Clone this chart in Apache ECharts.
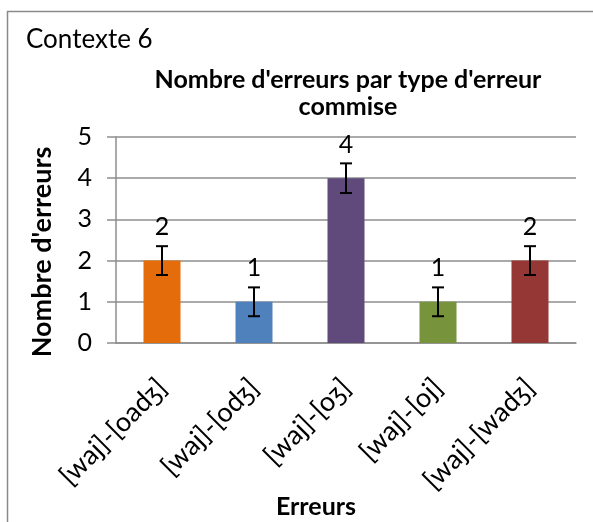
<!DOCTYPE html>
<html>
<head>
<meta charset="utf-8">
<script src="https://cdn.jsdelivr.net/npm/echarts@6/dist/echarts.min.js"></script>
<style>
  html, body { margin: 0; padding: 0; background: #fff; }
  #chart { width: 593px; height: 522px; }
</style>
</head>
<body>
<div id="chart"></div>
<script>
const categories = ["[waj]-[oadʒ]", "[waj]-[odʒ]", "[waj]-[oʒ]", "[waj]-[oj]", "[waj]-[wadʒ]"];
const values = [2, 1, 4, 1, 2];
const errors = [0.35, 0.35, 0.36, 0.35, 0.35];
const barColors = ["#e46c0a", "#4f81bd", "#604a7b", "#77933c", "#953735"];
const yTicks = [0, 1, 2, 3, 4, 5];

const font = "Lato, 'Open Sans', sans-serif";
const gridColor = "#8e8e8e";

const chart = echarts.init(document.getElementById("chart"));

chart.setOption({
  animation: false,
  textStyle: { fontFamily: font },
  graphic: [
    {
      type: "rect",
      shape: { x: 7.5, y: 11.5, width: 700, height: 600 },
      style: { fill: "none", stroke: "#8a8a8a", lineWidth: 1.5 },
      silent: true
    },
    {
      type: "text",
      x: 26,
      y: 40,
      style: { text: "Contexte 6", fontSize: 26, fontFamily: font, fill: "#000", verticalAlign: "middle" }
    },
    {
      // y axis title, placed like the original (slightly below the plot centre)
      type: "text",
      x: 42,
      y: 252,
      rotation: Math.PI / 2,
      style: {
        text: "Nombre d'erreurs", fontSize: 27, fontWeight: "bold", fontFamily: font,
        fill: "#000", align: "center", verticalAlign: "middle"
      }
    },
    {
      type: "text",
      x: 316,
      y: 507,
      style: {
        text: "Erreurs", fontSize: 25, fontWeight: "bold", fontFamily: font,
        fill: "#000", align: "center", verticalAlign: "middle"
      }
    }
  ],
  title: {
    text: "Nombre d'erreurs par type d'erreur\ncommise",
    left: 343,
    top: 61,
    textAlign: "center",
    textStyle: { fontSize: 25, fontWeight: "bold", fontFamily: font, color: "#000", lineHeight: 27 }
  },
  grid: { left: 116, right: 17, top: 137, bottom: 179, containLabel: false, outerBoundsMode: "none" },
  xAxis: {
    type: "category",
    data: categories,
    axisLine: { lineStyle: { color: gridColor, width: 1.5 } },
    axisTick: { show: false },
    axisLabel: { rotate: 45, fontSize: 27, color: "#000", margin: 40, interval: 0 }
  },
  yAxis: {
    type: "value",
    min: yTicks[0],
    max: yTicks[yTicks.length - 1],
    interval: 1,
    axisLine: { show: true, lineStyle: { color: gridColor, width: 1.5 } },
    axisTick: { show: true, length: 9, lineStyle: { color: gridColor, width: 1.5 } },
    axisLabel: { fontSize: 25, color: "#000", margin: 24 },
    splitLine: { lineStyle: { color: gridColor, width: 1.5 } }
  },
  series: [
    {
      type: "bar",
      barWidth: 37,
      data: values.map((v, i) => ({ value: v, itemStyle: { color: barColors[i] } })),
      label: { show: true, position: "top", distance: 21, fontSize: 25, color: "#000" }
    },
    {
      type: "custom",
      data: values.map((v, i) => [i, v, errors[i]]),
      z: 5,
      renderItem(params, api) {
        const x = api.value(0);
        const v = api.value(1);
        const e = api.value(2);
        const top = api.coord([x, v + e]);
        const bot = api.coord([x, v - e]);
        const half = 6;
        const st = { stroke: "#000", lineWidth: 2 };
        return {
          type: "group",
          children: [
            { type: "line", shape: { x1: top[0], y1: top[1], x2: bot[0], y2: bot[1] }, style: st },
            { type: "line", shape: { x1: top[0] - half, y1: top[1], x2: top[0] + half, y2: top[1] }, style: st },
            { type: "line", shape: { x1: bot[0] - half, y1: bot[1], x2: bot[0] + half, y2: bot[1] }, style: st }
          ]
        };
      }
    }
  ]
});
</script>
</body>
</html>
